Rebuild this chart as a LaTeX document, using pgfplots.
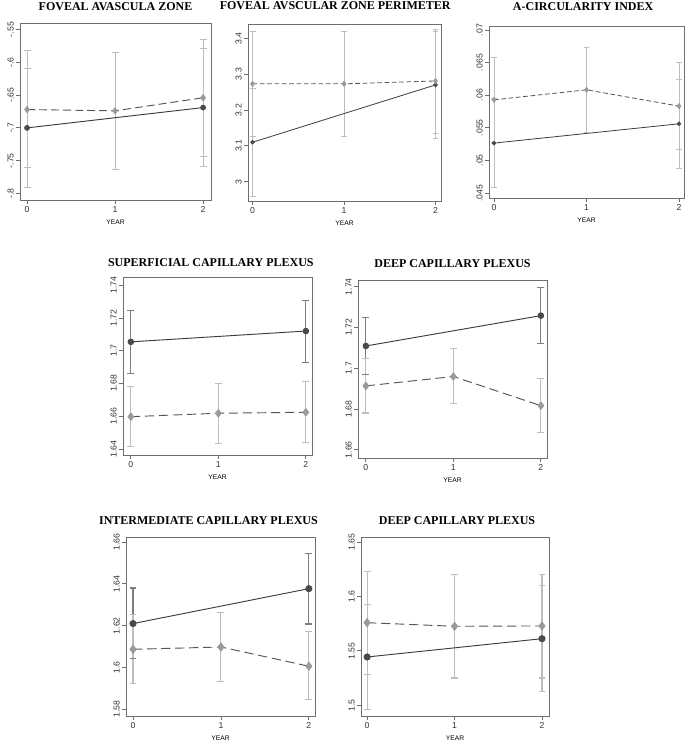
\documentclass[border=0pt]{standalone}
\usepackage{pgfplots}
\pgfplotsset{compat=1.18}
\usepackage{fontspec}
\setmainfont{Liberation Serif}
\setsansfont{Liberation Sans}

\definecolor{darkline}{HTML}{3C3C3C}
\definecolor{darkmark}{HTML}{4A4A4A}
\definecolor{graymark}{HTML}{9A9A9A}
\definecolor{lightbar}{HTML}{BDBDBD}
\definecolor{darkbar}{HTML}{7E7E7E}
\definecolor{dashline}{HTML}{555555}
\definecolor{frame}{HTML}{6E6E6E}

\pgfplotsset{
  pan/.style={
    scale only axis,
    anchor=south west,
    axis line style={frame, line width=0.7pt},
    tick style={frame, line width=0.6pt},
    major tick length=3pt,
    tick align=outside,
    xtick pos=bottom, ytick pos=left,
    xtick={0,1,2}, xticklabels={0,1,2},
    scaled y ticks=false,
    unbounded coords=jump,
    tick label style={font=\sffamily\fontsize{6.5}{7}\selectfont, text=black!80},
    yticklabel style={rotate=90, anchor=south, inner sep=1.5pt},
    xticklabel style={anchor=north, inner sep=1.5pt},
    xlabel={YEAR},
    xlabel style={font=\sffamily\fontsize{5}{6}\selectfont, at={(axis description cs:0.5,0)}, anchor=center, yshift=-17pt},
    title style={font=\bfseries\fontsize{9}{10}\selectfont, at={(axis description cs:0.5,1)}, anchor=center},
  },
  % confidence interval: (x,lo) (x,hi) (x,nan) for each year
  ci/.style n args={3}{#1, line width=#2, solid, mark=-, mark size=#3, mark options={solid, #1}, forget plot},
  dk/.style={darkline, mark=*, mark options={draw=darkmark, fill=darkmark}},
  gy/.style={dashline, mark=diamond*, mark options={draw=graymark, fill=graymark, solid}},
}

\begin{document}
\begin{tikzpicture}
\path[use as bounding box] (0,0) rectangle (513.75pt,558pt);

% ---------- FOVEAL AVASCULA ZONE ----------
\begin{axis}[pan, at={(15pt,408pt)}, width=143.25pt, height=132.75pt,
  xmin=-0.08, xmax=2.09, ymin=-0.810, ymax=-0.540,
  ytick={-0.8,-0.75,-0.7,-0.65,-0.6,-0.55},
  yticklabels={-.8,-.75,-.7,-.65,-.6,-.55},
  title={FOVEAL AVASCULA ZONE}, title style={yshift=6.5pt}]
\addplot[ci={lightbar}{0.6pt}{2.6pt}] coordinates {(0,-0.791) (0,-0.609) (0,nan) (2,-0.759) (2,-0.578)};
\addplot[ci={lightbar}{0.6pt}{2.6pt}] coordinates {(0,-0.761) (0,-0.5825) (0,nan) (1,-0.763) (1,-0.5856) (1,nan) (2,-0.743) (2,-0.565)};
\addplot[dk, line width=0.7pt, mark size=1.8pt] coordinates {(0,-0.700) (2,-0.669)};
\addplot[gy, line width=0.7pt, dash pattern=on 6pt off 3pt, mark size=2.3pt] coordinates {(0,-0.672) (1,-0.674) (2,-0.654)};
\end{axis}

% ---------- FOVEAL AVSCULAR ZONE PERIMETER ----------
\begin{axis}[pan, at={(186pt,407.25pt)}, width=144.75pt, height=132.75pt,
  xmin=-0.05, xmax=2.06, ymin=2.946, ymax=3.44,
  ytick={3,3.1,3.2,3.3,3.4}, yticklabels={3,3.1,3.2,3.3,3.4},
  title={FOVEAL AVSCULAR ZONE PERIMETER}, title style={yshift=7.5pt, xshift=-7pt}]
\addplot[ci={lightbar}{0.6pt}{2.2pt}] coordinates {(0,2.960) (0,3.260) (0,nan) (2,3.121) (2,3.4186)};
\addplot[ci={lightbar}{0.6pt}{2.2pt}] coordinates {(0,3.1265) (0,3.4195) (0,nan) (1,3.1265) (1,3.420) (1,nan) (2,3.135) (2,3.425)};
\addplot[dk, line width=0.6pt, mark size=1.4pt] coordinates {(0,3.110) (2,3.270)};
\addplot[gy, line width=0.6pt, dash pattern=on 3.5pt off 2pt, mark size=1.9pt] coordinates {(0,3.273) (1,3.273) (2,3.281)};
\end{axis}

% ---------- A-CIRCULARITY INDEX ----------
\begin{axis}[pan, at={(366.75pt,409.5pt)}, width=146.25pt, height=129pt,
  xmin=-0.054, xmax=2.054, ymin=0.04423, ymax=0.07061,
  ytick={0.045,0.05,0.055,0.06,0.065,0.07},
  yticklabels={.045,.05,.055,.06,.065,.07},
  title={A-CIRCULARITY INDEX}, title style={yshift=8.5pt, xshift=-2.5pt}]
\addplot[ci={lightbar}{0.6pt}{2.2pt}] coordinates {(0,0.04587) (0,0.05943) (0,nan) (2,0.04883) (2,0.06245)};
\addplot[ci={lightbar}{0.6pt}{2.2pt}] coordinates {(0,0.05276) (0,0.06582) (0,nan) (1,0.05429) (1,0.0674) (1,nan) (2,0.05173) (2,0.0650)};
\addplot[dk, line width=0.6pt, mark size=1.4pt] coordinates {(0,0.05265) (2,0.05561)};
\addplot[gy, line width=0.6pt, dash pattern=on 3.5pt off 2pt, mark size=1.9pt] coordinates {(0,0.05929) (1,0.06082) (2,0.05832)};
\end{axis}

% ---------- SUPERFICIAL CAPILLARY PLEXUS ----------
\begin{axis}[pan, at={(92.25pt,216.75pt)}, width=141.75pt, height=133.5pt,
  xmin=-0.09, xmax=2.07, ymin=1.6363, ymax=1.745,
  ytick={1.64,1.66,1.68,1.7,1.72,1.74},
  yticklabels={1.64,1.66,1.68,1.7,1.72,1.74},
  title={SUPERFICIAL CAPILLARY PLEXUS}, title style={yshift=4.5pt, xshift=-5pt}]
\addplot[ci={darkbar}{0.8pt}{2.6pt}] coordinates {(0,1.6859) (0,1.7248) (0,nan) (2,1.6930) (2,1.7309)};
\addplot[ci={lightbar}{0.8pt}{2.6pt}] coordinates {(0,1.6414) (0,1.6784) (0,nan) (1,1.6432) (1,1.6800) (1,nan) (2,1.6439) (2,1.6811)};
\addplot[dk, line width=0.7pt, mark size=2.1pt] coordinates {(0,1.7054) (2,1.712)};
\addplot[gy, line width=0.7pt, dash pattern=on 7pt off 3.5pt, mark size=2.8pt] coordinates {(0,1.6597) (1,1.6618) (2,1.6624)};
\end{axis}

% ---------- DEEP CAPILLARY PLEXUS (middle) ----------
\begin{axis}[pan, at={(268.5pt,214.5pt)}, width=141.75pt, height=133.5pt,
  xmin=-0.09, xmax=2.07, ymin=1.6559, ymax=1.7433,
  ytick={1.66,1.68,1.7,1.72,1.74},
  yticklabels={1.66,1.68,1.7,1.72,1.74},
  title={DEEP CAPILLARY PLEXUS}, title style={yshift=6.5pt}]
\addplot[ci={darkbar}{0.8pt}{2.6pt}] coordinates {(0,1.6971) (0,1.7250) (0,nan) (2,1.7119) (2,1.7397)};
\addplot[ci={lightbar}{0.8pt}{2.6pt}] coordinates {(0,1.6780) (0,1.7049) (0,nan) (1,1.6825) (1,1.7095) (1,nan) (2,1.6682) (2,1.6951)};
\addplot[dk, line width=0.7pt, mark size=2.1pt] coordinates {(0,1.7109) (2,1.7258)};
\addplot[gy, line width=0.7pt, dash pattern=on 7pt off 3.5pt, mark size=2.8pt] coordinates {(0,1.6913) (1,1.6959) (2,1.6816)};
\end{axis}

% ---------- INTERMEDIATE CAPILLARY PLEXUS ----------
\begin{axis}[pan, at={(94.5pt,21pt)}, width=141.75pt, height=134.25pt,
  xmin=-0.08, xmax=2.07, ymin=1.5768, ymax=1.6624,
  ytick={1.58,1.6,1.62,1.64,1.66},
  yticklabels={1.58,1.6,1.62,1.64,1.66},
  title={INTERMEDIATE CAPILLARY PLEXUS}, title style={yshift=6pt, xshift=-9pt}]
\addplot[ci={darkbar}{0.8pt}{2.6pt}] coordinates {(0,1.6042) (0,1.6380) (0,nan) (2,1.6208) (2,1.6543)};
\addplot[ci={lightbar}{0.8pt}{2.6pt}] coordinates {(0,1.5923) (0,1.6253) (0,nan) (1,1.5934) (1,1.6265) (1,nan) (2,1.5846) (2,1.6173)};
\addplot[dk, line width=0.7pt, mark size=2.3pt] coordinates {(0,1.621) (2,1.6377)};
\addplot[gy, line width=0.7pt, dash pattern=on 7pt off 3.5pt, mark size=3pt] coordinates {(0,1.6087) (1,1.6098) (2,1.6006)};
\end{axis}

% ---------- DEEP CAPILLARY PLEXUS (bottom) ----------
\begin{axis}[pan, at={(270.75pt,21pt)}, width=141pt, height=134.25pt,
  xmin=-0.07, xmax=2.08, ymin=1.4902, ymax=1.6546,
  ytick={1.5,1.55,1.6,1.65},
  yticklabels={1.5,1.55,1.6,1.65},
  title={DEEP CAPILLARY PLEXUS}, title style={yshift=6pt, xshift=1.5pt}]
\addplot[ci={lightbar}{0.8pt}{2.6pt}] coordinates {(0,1.4960) (0,1.5928) (0,nan) (2,1.5129) (2,1.6102)};
\addplot[ci={lightbar}{0.8pt}{2.6pt}] coordinates {(0,1.5282) (0,1.6231) (0,nan) (1,1.5251) (1,1.6200) (1,nan) (2,1.5251) (2,1.6200)};
\addplot[dk, line width=0.7pt, mark size=2.3pt] coordinates {(0,1.5444) (2,1.5612)};
\addplot[gy, line width=0.7pt, dash pattern=on 7pt off 3.5pt, mark size=3pt] coordinates {(0,1.5759) (1,1.5726) (2,1.5729)};
\end{axis}
\end{tikzpicture}
\end{document}
